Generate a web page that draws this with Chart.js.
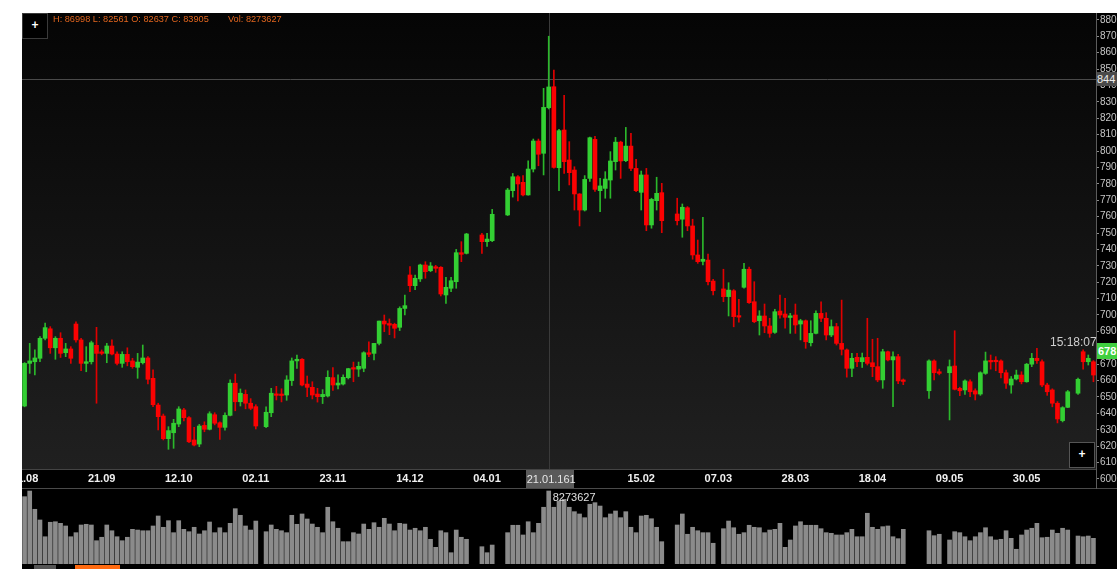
<!DOCTYPE html>
<html><head><meta charset="utf-8">
<script src="https://cdn.jsdelivr.net/npm/chart.js@4.4.1/dist/chart.umd.min.js"></script>
<style>
html,body{margin:0;padding:0;background:#fff;width:1117px;height:569px;overflow:hidden;font-family:'Liberation Sans',Arial,sans-serif;}
.abs{position:absolute;}
#panel{left:22px;top:13px;width:1095px;height:556px;background:#000;}
#plotbg{left:22px;top:13px;width:1074px;height:456px;background:linear-gradient(#050505,#202020);}
#pc{left:22px;top:13px;}
#vwrap{left:22px;top:469px;width:1074px;height:100px;overflow:hidden;}
.plus{width:24px;height:24px;border:1px solid #3a3a3a;background:#000;color:#fff;font:bold 12px 'Liberation Sans';text-align:center;line-height:23px;}
.hdr{top:13px;color:#e2661f;font:9.2px 'Liberation Sans';line-height:12px;white-space:pre;}
.lbl{font:11px 'Liberation Sans';white-space:nowrap;}
</style></head><body>
<div id="panel" class="abs"></div>
<div id="plotbg" class="abs"></div>
<div class="abs" style="left:22px;top:469px;width:1074px;height:1px;background:#444"></div>
<div class="abs" style="left:22px;top:488px;width:1095px;height:1px;background:#4a4a4a"></div>
<div class="abs" style="left:34px;top:565px;width:22px;height:4px;background:#555"></div>
<div class="abs" style="left:75px;top:565px;width:45px;height:4px;background:#ff6a10"></div>
<canvas id="pc" class="abs" width="1095" height="476"></canvas>
<div id="vwrap" class="abs"><canvas id="vc" width="1074" height="100"></canvas></div>
<div class="abs plus" style="left:22px;top:13px;">+</div>
<div class="abs plus" style="left:1069px;top:442px;border-color:#555">+</div>
<div id="hdr1" class="abs hdr" style="left:53px"></div>
<div id="hdr2" class="abs hdr" style="left:228px"></div>
<div id="l844" class="abs lbl"></div>
<div id="l678" class="abs lbl"></div>
<div id="ltime" class="abs lbl"></div>
<div id="ldate" class="abs lbl"></div>
<div id="lvol" class="abs lbl"></div>
<script>
// ---------- data ----------
const open = [
644.5,670.5,671.5,673.6,685.8,691.6,680,685.8,677,679.3,
694.5,684.8,670.5,671.5,681.5,677.4,676.6,681.1,676.2,670.5,
676,672,668.1,670.9,673.8,661.4,645.1,638.4,624.6,628.2,
633.5,642.1,637.4,623.8,621.3,632.7,630.3,639.2,634.3,631.5,
638.8,658.4,647.1,651.6,646.2,644.1,null,631.9,640.4,651.8,
651.7,651.2,660,672,673,657.9,655.9,651.8,650.2,650.6,
661.8,657.3,657.9,661.8,667.7,667,667.5,677,676.6,682.7,
696.3,694.8,694.3,692.5,704,724.4,717.9,722,730.5,727,
729.3,729.1,712.2,716.3,720.3,738,737.6,null,null,748.8,
744.7,745.3,null,null,761,775.8,784.3,780.9,773.2,789,
806.1,798.6,826.37,839.2,789.8,812.8,794.5,788.4,773.8,764,
783.3,807.1,775.8,777.2,782.3,793.5,805.4,794.1,803,789.4,
774.8,785.4,754.9,769.7,774.6,null,null,761.6,758.4,765.4,
754.3,736.6,732.7,733.5,720.7,null,715.9,711.2,714.8,699.3,
716.9,727.9,708.1,696.5,699.4,693.3,689.4,702.4,700.6,698.5,
700,694.5,696.5,683.1,688.8,701,698,687.8,692.9,682.7,
678.7,667.5,674.2,671.5,674.2,670.9,668.5,660.4,677.6,672.6,
674.6,660.4,null,null,null,null,653.8,672,665.4,null,
664.8,668.9,655.3,654.3,659.3,653.8,651.8,664.4,672.2,672.2,
672,664.8,657.3,661,663.4,659.3,670,673.6,671.5,657.3,
654.3,646.2,635.6,643.7,null,652.3,677.6,671.5,671.5
];
const high = [
671,682.7,678.7,686.8,695,692.9,686.8,689.2,682.7,680.7,
695.9,685.8,680.7,684.1,692.5,678.7,682.7,684.8,677.6,677.6,
680,673.6,676.6,681.7,674.6,666.5,646.2,639.6,631.9,636.4,
644.1,643.1,638,631.5,633.3,634.9,641,640.4,634.9,640.4,
660.4,664,654.9,654.3,649,645.3,null,644,655.3,656.5,
655,663,673.8,675.6,673.5,662.8,659.3,655.3,654.5,666,
668,663.5,663.5,667.5,671.3,671.3,677.6,683.7,682.8,696.3,
700,697.6,695,705,712.2,729.5,724.4,731,732.5,732,
730.3,729.5,723,723,740,744.7,749.8,null,null,749.8,
749.8,764.4,null,null,777.2,786.3,785,785,794,807.3,
807.3,838.2,869.98,849.4,813.2,834,805.7,790.4,774,785,
808.5,809,783.3,787.4,799.6,808.3,806,814.4,810.8,794.9,
787.8,789.4,771.2,784,780.3,null,null,771.2,767.7,766.1,
758.4,745.7,759.6,737.2,721.8,null,727.9,719.7,715.5,709.5,
731.5,729.2,720.3,702.6,706.7,698,703.5,712.2,710.2,701,
706.7,697.4,697,696.5,702.6,708.1,701.4,697,694.9,709.1,
679.3,676.6,676.6,676.8,698,685.2,685.8,679.1,678,677.6,
676,661,null,null,null,null,672.6,672.6,667,null,
672.6,690.4,656,660.4,660.4,655,665.4,677.4,675.6,674.6,
672.6,666.4,662.5,666.4,665.4,670.5,676.6,679.7,672.6,658.4,
655,647.2,644.1,654,null,661.6,678.7,675.6,672.2
];
const low = [
644,664.4,663.4,671.5,684.8,676.6,673,674.1,674.6,670.5,
683.4,666,665.4,670.1,646.2,675.7,670.9,675.6,669.5,668.1,
669,667.5,661.4,670.1,657.9,644.1,629.9,623.8,618.1,618.7,
631.9,635.4,622.1,620.1,619.7,628.8,629.9,633,624.2,629.7,
638.4,641.6,644.5,642.8,642.2,630.5,null,631.3,638,648.2,
647,648,657,667.5,656.7,650.2,648.8,646.9,646,650,
654,655,657.3,661,659.3,662.5,665.4,674.6,672.6,681.7,
689.8,688,686,690.5,700,714.2,715.5,720.4,722.4,726.4,
726,711.6,707,714.3,716.3,732.5,737.2,null,null,737.6,
741.8,744.7,null,null,760.6,771.9,769.5,772.6,773,787.2,
791,785.4,825.61,789.5,775.8,786.4,779.3,764,754.3,763.4,
781.5,775.4,763,771.2,771.2,788.4,783.3,793.5,788,775.2,
764,751.4,752.9,764,750.2,null,null,754.9,747.4,751.4,
734,731.5,730.5,718.3,712.2,null,708.1,699.4,692.8,695.6,
716.3,707,695.3,687.8,689.2,686.4,688.8,698,691.9,688.8,
688.8,684.8,679.7,681.1,688.5,695.9,684.8,686.8,681.7,675.6,
662.1,662.4,668.5,668,669.5,662.4,659.3,655.3,672,644.1,
658.1,657.5,null,null,null,null,649.2,660.4,663.5,null,
636,654.3,650.8,651.6,650.2,648.2,651,663.8,667,666,
661.6,655.3,652.3,660.4,658,659,668.5,670.5,656.3,651,
644,634.2,634.8,643.5,null,651.6,667,669.5,659.3
];
const close = [
670.5,672,673.8,685.8,692.3,680,685.8,676.6,679.3,673.6,
684.8,670.5,671.5,683.1,676.6,676.6,681.1,676.2,670.5,676,
671.5,668.5,671.3,673.8,660.8,645.3,638,624.6,629.5,634,
642.7,637.4,622.7,620.7,632.3,630.3,639.8,634,631.5,638.8,
658.4,647.1,652.3,646.2,643.1,632.3,null,640.7,652.3,651,
650.9,660.4,672,673,657.3,655.9,651.2,650.2,651.6,662,
657.3,658.5,662,667.3,667,668.7,677,676,682.7,696.3,
694.5,693.8,691.9,704,705.7,717.9,722.4,730.5,726.4,729.9,
728.5,712.8,716.9,720.9,738,737,749.4,null,null,744.7,
746.3,761.4,null,null,776.2,784.3,779.9,773.2,789,806.1,
798,826.6,839.05,790,812.4,793.5,786.8,773.8,764,782.7,
808.1,776.6,778.7,782.9,793.9,805.4,793.9,803,789.4,775.8,
785.4,754.9,770.5,774.2,757.5,null,null,757.5,765.7,754.3,
736.6,732.5,734,720.3,714.8,null,711.2,715.2,699,698.7,
727.9,707.5,695.9,699.4,693.3,688.8,702,700,698.6,699.5,
693.9,696.5,683.7,688.8,701,698,687.8,692.9,682.7,679.1,
667.5,673.6,671.5,674,670.5,668.5,660.4,677.6,672.6,674.6,
659.8,659.5,null,null,null,null,672,664.8,664.4,null,
668.5,654.7,653.8,659.8,653.2,651.8,664.8,672,671.4,671.5,
664.8,658.4,661,663.4,659.3,670,673.6,672.2,657.3,653.2,
646.2,636.6,643.5,653.2,null,660.8,671.5,673.6,663.4
];
// volume, thousands
const volume = [
7630,8270,6200,4990,3090,4730,4790,4610,4310,3090,
3550,4420,4500,4420,2640,3030,4420,3770,3090,2640,
3030,3930,3850,3770,3770,4310,5440,4160,4910,3550,
4910,3930,3660,4160,3400,3770,4760,3550,4110,3550,
4610,6270,5520,4310,3850,4870,null,3660,4420,3930,
3770,3550,5520,4500,5670,5100,4530,4160,3550,6430,
4790,4050,2530,2530,3550,3400,4530,3930,4680,4160,
5180,4530,3770,4610,4530,3850,4050,3770,4160,2800,
1890,3770,3550,1280,3850,3030,2800,null,null,1960,
1280,2150,null,null,3550,4390,4390,3290,4790,3550,
4610,6430,8274,6430,7140,7330,6430,5930,5670,5250,
6770,6950,6570,5250,5670,6010,5250,5930,4160,3550,
5440,5520,5130,4160,2530,null,null,4420,5670,3370,
4160,3770,3550,3550,2350,null,4000,4870,4110,3370,
3550,4390,4160,4110,3550,3850,3930,4610,1890,2720,
4310,4790,4390,4390,4390,4000,3550,3480,3290,3290,
3550,3930,3090,3090,5750,4160,3930,4230,4310,3090,
2870,3930,null,null,null,null,3770,3210,3370,null,
2720,3660,3550,3090,2640,3090,3550,4110,3090,2720,
2800,3770,2910,1670,3290,3850,4050,4610,2980,3030,
3850,3480,4050,3850,null,3170,3090,3170,2910
];
const tickIndex = [0,15,30,45,60,75,90,120,135,150,165,180,195];
const tickText = ['31.08','21.09','12.10','02.11','23.11','14.12','04.01','15.02','07.03','28.03','18.04','09.05','30.05'];
const crossIndex = 102;
const crossPrice = 844;
const crossDate = '21.01.161';
const crossVolume = '8273627';
const lastPrice = 678;
const lastTime = '15:18:07';
const headerText = 'H: 86998 L: 82561 O: 82637 C: 83905';
const headerVol = 'Vol: 8273627';

// ---------- build ----------
const slots = open.map((_, i) => i);
const GREEN = '#33cf33', RED = '#fb0202';
const up = open.map((o, i) => o == null ? null : close[i] >= o);
const bodyData = open.map((o, i) => o == null ? null : [o, close[i]]);
const wickData = open.map((o, i) => o == null ? null : [low[i], high[i]]);
const bodyColors = up.map(u => u ? GREEN : RED);
const wickColors = up.map(u => u ? '#2bb82b' : '#e00000');

const crosshair = {
  id: 'crosshair',
  beforeDatasetsDraw(chart) {
    const {ctx, chartArea, scales: {x, y}} = chart;
    const px = Math.round(x.getPixelForValue(crossIndex)) + 0.5;
    const py = Math.round(y.getPixelForValue(crossPrice)) + 0.5;
    ctx.save();
    ctx.lineWidth = 1;
    ctx.strokeStyle = '#3a3a3a';
    ctx.beginPath();
    ctx.moveTo(px, chartArea.top); ctx.lineTo(px, 456);
    ctx.stroke();
    ctx.strokeStyle = '#4a4a4a';
    ctx.beginPath();
    ctx.moveTo(chartArea.left, py); ctx.lineTo(chartArea.right, py);
    ctx.stroke();
    ctx.restore();
  }
};

const price = new Chart(document.getElementById('pc'), {
  type: 'bar',
  data: {
    labels: slots,
    datasets: [
      {data: wickData, backgroundColor: wickColors, barThickness: 1, grouped: false, order: 2, borderWidth: 0},
      {data: bodyData, backgroundColor: bodyColors, barThickness: 4, grouped: false, order: 1, borderWidth: 0, minBarLength: 1.5}
    ]
  },
  options: {
    animation: false, responsive: false, maintainAspectRatio: false,
    layout: {padding: 0},
    plugins: {legend: {display: false}, tooltip: {enabled: false}},
    scales: {
      x: {display: false, offset: true},
      y: {
        position: 'right', min: 593.9, max: 884.15,
        afterFit(s) { s.width = 21; s.paddingTop = 0; s.paddingBottom = 0; },
        ticks: {stepSize: 10, includeBounds: false, autoSkip: false, padding: 1, color: '#c6c6c6',
          font: {family: 'Liberation Sans', size: 10}, callback: v => String(v)},
        grid: {drawOnChartArea: false, drawTicks: true, tickLength: 3, color: '#8c8c8c'},
        border: {display: true, color: '#5c5c5c'}
      }
    }
  },
  plugins: [crosshair]
});

const vol = new Chart(document.getElementById('vc'), {
  type: 'bar',
  data: {labels: slots, datasets: [{data: volume, backgroundColor: '#8b8b8b', barThickness: 4, borderWidth: 0}]},
  options: {
    animation: false, responsive: false, maintainAspectRatio: false,
    layout: {padding: {bottom: 5}},
    plugins: {legend: {display: false}, tooltip: {enabled: false}},
    scales: {
      x: {
        position: 'top', offset: true,
        grid: {display: false, drawTicks: false}, border: {display: false},
        afterFit(s) { s.height = 20; s.paddingLeft = 0; s.paddingRight = 0; },
        ticks: {autoSkip: false, maxRotation: 0, minRotation: 0, padding: 3, color: '#f0f0f0',
          font: {family: 'Liberation Sans', size: 11, weight: 'bold'},
          callback(v, i) { const k = tickIndex.indexOf(i); return k >= 0 ? tickText[k] : ''; }}
      },
      y: {display: false, min: 0, max: 8500}
    }
  }
});

// ---------- annotations ----------
const crossX = 22 + price.scales.x.getPixelForValue(crossIndex);
const y844 = 13 + price.scales.y.getPixelForValue(crossPrice);
const y678 = 13 + price.scales.y.getPixelForValue(lastPrice);
document.getElementById('hdr1').textContent = headerText;
document.getElementById('hdr2').textContent = headerVol;
Object.assign(document.getElementById('l844').style, {left:'1097px', top:(y844-7)+'px', width:'20px', height:'14px', background:'#4a4a4a', color:'#ececec', lineHeight:'14px', overflow:'hidden'});
document.getElementById('l844').textContent = String(crossPrice);
Object.assign(document.getElementById('l678').style, {left:'1097px', top:(y678-8)+'px', width:'20px', height:'16px', background:'#3fcf3f', color:'#ffffff', lineHeight:'16px', fontWeight:'bold', paddingLeft:'1px', overflow:'hidden'});
document.getElementById('l678').textContent = String(lastPrice);
Object.assign(document.getElementById('ltime').style, {left:'1050px', top:(y678-16)+'px', color:'#cfcfcf', fontSize:'12px', lineHeight:'14px'});
document.getElementById('ltime').textContent = lastTime;
Object.assign(document.getElementById('ldate').style, {left:(crossX-23)+'px', top:'470px', width:'47px', height:'18px', background:'#5a5a5a', color:'#e6e6e6', lineHeight:'18px', paddingLeft:'1px'});
document.getElementById('ldate').textContent = crossDate;
Object.assign(document.getElementById('lvol').style, {left:(crossX+4)+'px', top:'491px', color:'#e0e0e0', lineHeight:'12px'});
document.getElementById('lvol').textContent = crossVolume;
</script>
</body></html>
